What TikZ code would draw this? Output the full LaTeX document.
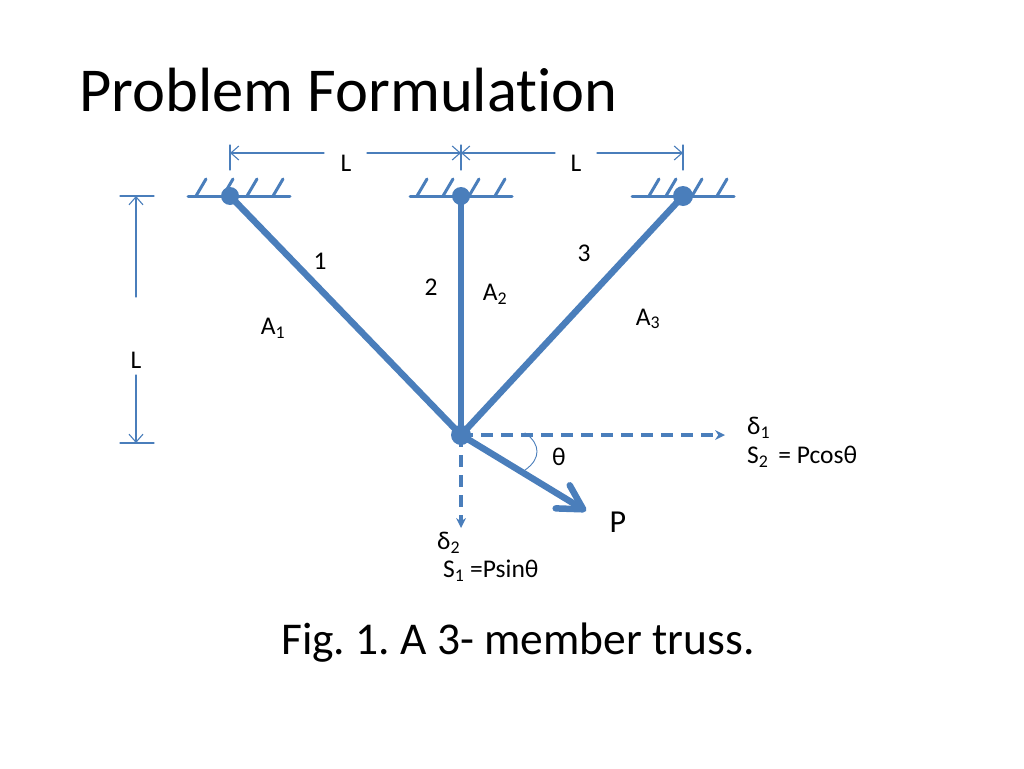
\documentclass[tikz,border=0pt]{standalone}
\usepackage{fontspec}
\setmainfont[Ligatures=NoCommon]{Carlito}
\usetikzlibrary{arrows.meta}
\definecolor{trussblue}{HTML}{4A7EBB}
\frenchspacing
\tikzset{
	member/.style={line width=6.5pt,color=trussblue},
	joint/.style={circle,fill=trussblue,inner sep=0pt,minimum size=#1},
	wall/.style={line width=3pt,color=trussblue},
	dim/.style={line width=1.1pt,color=trussblue},
	dimtip/.style={dim,-{Straight Barb[length=8pt,width=14pt,line width=1.1pt]}},
	disp/.style={line width=3.2pt,color=trussblue,line cap=butt,dash pattern=on 12pt off 8pt,-{Stealth[length=10pt,width=10pt,line width=0pt]}},
	lbl/.style={inner sep=0pt,font=\fontsize{25.5}{27}\selectfont,align=left}
}
\begin{document}
\begin{tikzpicture}[x=1pt,y=-1pt,>=stealth,line join=round,line cap=round]
	\useasboundingbox (0,0) rectangle (1024,768);
	% supports
	\node[joint=18pt] (s1) at (230,196) {};
	\node[joint=18pt] (s2) at (461,196) {};
	\node[joint=20pt] (s3) at (683,196) {};
	\node[joint=20pt] (j) at (461,435) {};
	\coordinate (w1a) at (188,196); \coordinate (w1b) at (290,196);
	\coordinate (w2a) at (410,196); \coordinate (w2b) at (512,196);
	\coordinate (w3a) at (632,196); \coordinate (w3b) at (734,196);
	\draw[wall] (w1a)--(w1b);
	\draw[wall] (w2a)--(w2b);
	\draw[wall] (w3a)--(w3b);
	\foreach \x in {196,223,247,273,417,443,469,495,649,666,692,717}
	\draw[wall] (\x,196)--(\x+10,179);
	% members
	\draw[member] (s1.center)--(j.center);
	\draw[member] (s2.center)--(j.center);
	\draw[member] (s3.center)--(j.center);
	% load and displacements
	\coordinate (p) at (586,511);
	\coordinate (d1) at (725,435);
	\coordinate (d2) at (461,528);
	\draw[member,-{Straight Barb[length=24pt,width=27pt,line width=6.5pt,round]}] (j.center)--(p);
	\draw[disp] (j.center)--(d1);
	\draw[disp] (j.center)--(d2);
	\coordinate (th1) at (525,433); \coordinate (th2) at (525,470);
	\draw[dim,line width=0.9pt] (th1) .. controls (541,444) and (541,459) .. (th2);
	% dimensions on top
	\node[lbl] (l1) at (346,163) {L};
	\node[lbl] (l2) at (576,163) {L};
	\node[lbl] (l3) at (136,360) {L};
	\coordinate (t1) at (230,153); \coordinate (t2) at (461,153); \coordinate (t3) at (683,153);
	\coordinate (a1) at (324,153); \coordinate (a2) at (367,153);
	\coordinate (a3) at (555,153); \coordinate (a4) at (597,153);
	\draw[dimtip] (a1)--(t1);
	\draw[dimtip] (a2)--(t2);
	\draw[dimtip] (a3)--(t2);
	\draw[dimtip] (a4)--(t3);
	\foreach \x in {230,461,683}
	\draw[dim] (\x,145)--(\x,170);
	% dimension on the left
	\coordinate (v1) at (136,196); \coordinate (v2) at (136,443);
	\coordinate (b1) at (136,297); \coordinate (b2) at (136,375);
	\draw[dimtip] (b1)--(v1);
	\draw[dimtip] (b2)--(v2);
	\foreach \y in {196,443}
	\draw[dim] (120,\y)--(154,\y);
	% labels
	\node[lbl] (n1) at (320,261) {1};
	\node[lbl] (n2) at (431,287) {2};
	\node[lbl] (n3) at (584,253) {3};
	\node[lbl] (A1) at (273,328) {A\textsubscript{1}};
	\node[lbl] (A2) at (495,294) {A\textsubscript{2}};
	\node[lbl] (A3) at (648,319) {A\textsubscript{3}};
	\node[lbl] (th) at (559,457) {θ};
	\node[lbl,font=\fontsize{32}{34}\selectfont] (P) at (618,522) {P};
	\node[lbl,anchor=west] (de1) at (747,428) {δ\textsubscript{1}};
	\node[lbl,anchor=west] (S2) at (747,457) {S\textsubscript{2}\, = Pcosθ};
	\node[lbl,anchor=west] (de2) at (437,543) {δ\textsubscript{2}};
	\node[lbl,anchor=west] (S1) at (443,571) {S\textsubscript{1} =Psinθ};
	\node[inner sep=0pt,anchor=west,font=\fontsize{62.5}{66}\selectfont] (title) at (79,90) {Problem Formulation};
	\node[inner sep=0pt,anchor=west,font=\fontsize{45.5}{48}\selectfont] (cap) at (281,643) {Fig. 1. A 3- member truss.};
\end{tikzpicture}
\end{document}
